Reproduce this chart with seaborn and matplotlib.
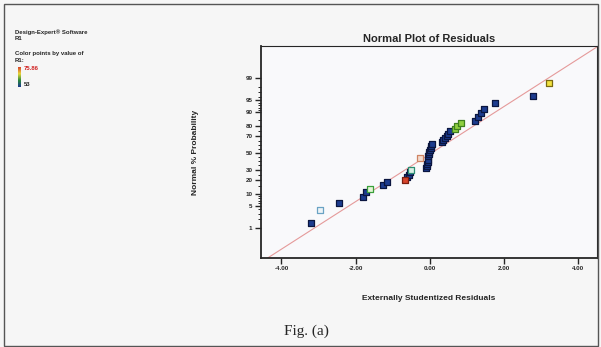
import numpy as np
import pandas as pd
import matplotlib
matplotlib.use("Agg")
import matplotlib.pyplot as plt
from matplotlib.colors import LinearSegmentedColormap
import seaborn as sns
from statistics import NormalDist

# externally studentized residuals (ordered by rank)
residual = [-3.19, -2.95, -2.44, -1.81, -1.71, -1.62, -1.26, -1.15, -0.67, -0.61,
            -0.57, -0.54, -0.50, -0.09, -0.08, -0.07, -0.05, -0.05, -0.27, -0.04,
            -0.03, -0.01, 0.00, 0.03, 0.04, 0.07, 0.32, 0.35, 0.40, 0.46,
            0.49, 0.54, 0.67, 0.74, 0.84, 1.21, 1.30, 1.37, 1.46, 1.75,
            2.78, 3.21]

# normal % probability of each point
probability = [1.5, 3.9, 6.2, 8.6, 11.0, 13.3, 15.7, 18.0, 20.4, 22.8,
               25.1, 27.5, 29.9, 32.2, 34.6, 37.0, 39.4, 41.7, 44.1, 46.5,
               48.8, 51.2, 53.6, 55.9, 58.3, 60.7, 63.0, 65.4, 67.8, 70.1,
               72.5, 74.9, 77.2, 79.6, 82.0, 84.3, 86.7, 89.1, 91.4, 93.8,
               96.2, 98.5]

# colour group of each point (colour by value of R1)
group = ["low", "pale", "low", "low", "low", "lime", "low", "low", "red", "low",
         "low", "low", "teal", "low", "low", "low", "low", "low", "salmon", "low",
         "low", "low", "low", "low", "low", "low", "low", "low", "low", "low",
         "low", "low", "green", "green", "green", "low", "low", "low", "low", "low",
         "low", "yellow"]

major_pct = [1, 5, 10, 20, 30, 50, 70, 80, 90, 95, 99]
minor_pct = [2, 3, 4, 6, 7, 8, 9, 15, 25, 35, 40, 45, 55, 60, 65, 75, 85,
             91, 92, 93, 94, 96, 97, 98]
x_ticks = [-4, -2, 0, 2, 4]

styles = {
    "low": ("#1d3c8f", "#0b1640"),
    "pale": ("#eef4f7", "#6aa3c4"),
    "lime": ("#e6f5d8", "#3aa03a"),
    "red": ("#d8442c", "#7a1e10"),
    "teal": ("#d9efe6", "#2c8f74"),
    "salmon": ("#f3dccf", "#cf8463"),
    "green": ("#8fcf3f", "#3f7f1f"),
    "yellow": ("#f2e23e", "#7a6a10"),
}

nd = NormalDist()
df = pd.DataFrame({"residual": residual, "probability": probability, "group": group})
df["z"] = [nd.inv_cdf(p / 100) for p in df["probability"]]

sns.set_style("ticks")
plt.rcParams["font.family"] = ["Liberation Sans", "DejaVu Sans"]

fig = plt.figure(figsize=(6.01, 3.47), dpi=100, facecolor="#f6f6f6")
ax = fig.add_axes([0.434, 0.2565, 0.559, 0.611])
ax.set_facecolor("#f9f9fb")

ax.set_xlim(-4.555, 4.50)
ax.set_ylim(-3.26, 3.32)

# fit line
xs = np.array(ax.get_xlim())
ax.plot(xs, 0.738 * xs - 0.034, color="#e59a9a", lw=0.8, zorder=1)

for g, (face, edge) in styles.items():
    sub = df[df["group"] == g]
    sns.scatterplot(data=sub, x="residual", y="z", marker="s", s=20,
                    color=face, edgecolor=edge, linewidth=0.9,
                    ax=ax, zorder=3, legend=False)

ax.set_xticks(x_ticks)
ax.set_xticklabels([f"{v:.2f}" for v in x_ticks], fontsize=4.5, fontweight="bold")
ax.set_yticks([nd.inv_cdf(p / 100) for p in major_pct])
ax.set_yticklabels([str(p) for p in major_pct], fontsize=4.5, fontweight="bold")
ax.set_yticks([nd.inv_cdf(p / 100) for p in minor_pct], minor=True)
ax.tick_params(axis="both", which="major", direction="out", length=4, width=1, pad=2)
ax.tick_params(axis="y", which="minor", direction="out", length=2, width=0.7)

for side in ["left", "bottom"]:
    ax.spines[side].set_linewidth(1.3)
for side in ["top", "right"]:
    ax.spines[side].set_linewidth(0.8)

ax.set_title("Normal Plot of Residuals", fontsize=8, fontweight="bold", pad=3)
ax.set_xlabel("Externally Studentized Residuals", fontsize=6, fontweight="bold")
ax.xaxis.set_label_coords(0.5, -0.175)
ax.set_ylabel("Normal % Probability", fontsize=6, fontweight="bold")
ax.yaxis.set_label_coords(-0.185, 0.5)

# left side text block
W, H = 601, 347
fig.text(15 / W, 1 - 32 / H, "Design-Expert® Software", fontsize=4.3, fontweight="bold", va="center")
fig.text(15 / W, 1 - 38 / H, "R1", fontsize=4.3, fontweight="bold", va="center")
fig.text(15 / W, 1 - 53 / H, "Color points by value of", fontsize=4.3, fontweight="bold", va="center")
fig.text(15 / W, 1 - 60 / H, "R1:", fontsize=4.3, fontweight="bold", va="center")

cax = fig.add_axes([18 / W, 1 - 87 / H, 3 / W, 20 / H])
cmap = LinearSegmentedColormap.from_list("dx", ["#1d3c8f", "#2a8a3a", "#e8d83a", "#d8442c"])
cax.imshow(np.linspace(1, 0, 50).reshape(-1, 1), aspect="auto", cmap=cmap)
cax.axis("off")
fig.text(24 / W, 1 - 69 / H, "75.86", fontsize=4.3, fontweight="bold", color="#d02020", va="center")
fig.text(24 / W, 1 - 85 / H, "53", fontsize=4.3, fontweight="bold", va="center")

fig.text(306 / W, 1 - 331 / H, "Fig. (a)", fontsize=11, family="Liberation Serif",
         ha="center", va="center")

fig.add_artist(plt.Rectangle((4 / W, 1 / H), 594 / W, 342 / H, transform=fig.transFigure,
                             fill=False, ec="#555555", lw=1))

fig.savefig("out.png", dpi=100, facecolor=fig.get_facecolor())
